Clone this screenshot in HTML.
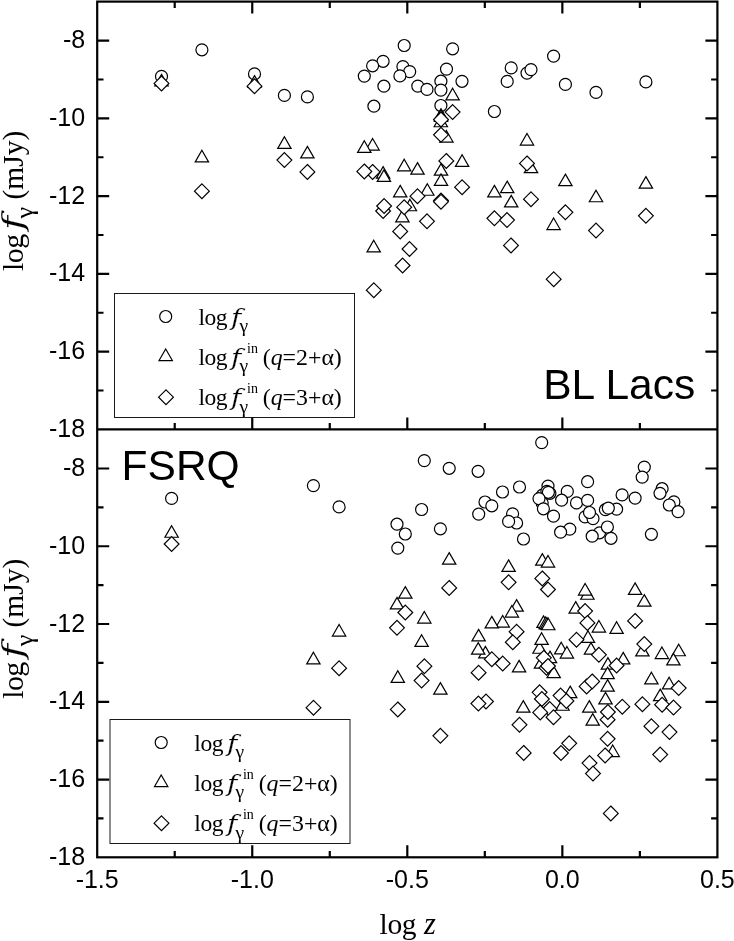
<!DOCTYPE html>
<html><head><meta charset="utf-8">
<style>html,body{margin:0;padding:0;background:#fff}svg{display:block;will-change:transform}.sans{font-family:"Liberation Sans",Arial,sans-serif;fill:#000}.serif{font-family:"Liberation Serif","Times New Roman",serif;fill:#000}.it{font-style:italic}.dj{font-family:"DejaVu Serif","Liberation Serif",serif;font-style:italic;fill:#000;stroke:#fff;stroke-width:0.15}.m{fill:#fff;stroke:#000;stroke-width:1.2;stroke-linejoin:miter}.ax{stroke:#000;stroke-width:2.2;fill:none;stroke-linecap:butt}</style></head><body>
<svg width="734" height="941" viewBox="0 0 734 941">
<rect x="0" y="0" width="734" height="941" fill="#fff"/>
<g id="top-circles"><circle class="m" cx="201.9" cy="49.8" r="6.0"/><circle class="m" cx="161.5" cy="76.4" r="6.0"/><circle class="m" cx="254.5" cy="73.9" r="6.0"/><circle class="m" cx="284.4" cy="95.4" r="6.0"/><circle class="m" cx="307.4" cy="96.9" r="6.0"/><circle class="m" cx="404.2" cy="45.5" r="6.0"/><circle class="m" cx="452.6" cy="48.8" r="6.0"/><circle class="m" cx="383.1" cy="61.3" r="6.0"/><circle class="m" cx="372.6" cy="65.8" r="6.0"/><circle class="m" cx="364.3" cy="76.1" r="6.0"/><circle class="m" cx="402.9" cy="66.6" r="6.0"/><circle class="m" cx="409.7" cy="71.6" r="6.0"/><circle class="m" cx="399.9" cy="75.9" r="6.0"/><circle class="m" cx="446.5" cy="69.1" r="6.0"/><circle class="m" cx="383.9" cy="86.2" r="6.0"/><circle class="m" cx="417.8" cy="86.1" r="6.0"/><circle class="m" cx="427" cy="89.4" r="6.0"/><circle class="m" cx="440.9" cy="81.2" r="6.0"/><circle class="m" cx="440.9" cy="90.1" r="6.0"/><circle class="m" cx="462" cy="81.3" r="6.0"/><circle class="m" cx="373.9" cy="106.2" r="6.0"/><circle class="m" cx="440.9" cy="105.5" r="6.0"/><circle class="m" cx="511.2" cy="67.9" r="6.0"/><circle class="m" cx="507.2" cy="81.4" r="6.0"/><circle class="m" cx="494.4" cy="111.5" r="6.0"/><circle class="m" cx="553.6" cy="56.1" r="6.0"/><circle class="m" cx="527" cy="73.1" r="6.0"/><circle class="m" cx="531" cy="69.6" r="6.0"/><circle class="m" cx="565.4" cy="84.4" r="6.0"/><circle class="m" cx="596" cy="92.4" r="6.0"/><circle class="m" cx="645.9" cy="81.9" r="6.0"/></g>
<g id="top-triangles"><path class="m" d="M161.5 74.4L168.17 85.95L154.83 85.95Z"/><path class="m" d="M254.5 75.6L261.17 87.15L247.83 87.15Z"/><path class="m" d="M284.4 136.8L291.07 148.35L277.73 148.35Z"/><path class="m" d="M307.4 146.4L314.07 157.95L300.73 157.95Z"/><path class="m" d="M201.9 150.3L208.57 161.85L195.23 161.85Z"/><path class="m" d="M452.6 88.3L459.27 99.85L445.93 99.85Z"/><path class="m" d="M441 108.7L447.67 120.25L434.33 120.25Z"/><path class="m" d="M441 109.9L447.67 121.45L434.33 121.45Z"/><path class="m" d="M440.8 115.2L447.47 126.75L434.13 126.75Z"/><path class="m" d="M446.4 130.5L453.07 142.05L439.73 142.05Z"/><path class="m" d="M372.6 138.5L379.27 150.05L365.93 150.05Z"/><path class="m" d="M364.3 140.8L370.97 152.35L357.63 152.35Z"/><path class="m" d="M462.1 154.8L468.77 166.35L455.43 166.35Z"/><path class="m" d="M404.2 159.3L410.87 170.85L397.53 170.85Z"/><path class="m" d="M417.5 162.6L424.17 174.15L410.83 174.15Z"/><path class="m" d="M441 163.6L447.67 175.15L434.33 175.15Z"/><path class="m" d="M383.1 166.6L389.77 178.15L376.43 178.15Z"/><path class="m" d="M383.9 169.9L390.57 181.45L377.23 181.45Z"/><path class="m" d="M441 173.9L447.67 185.45L434.33 185.45Z"/><path class="m" d="M427.3 183.7L433.97 195.25L420.63 195.25Z"/><path class="m" d="M400.2 185.4L406.87 196.95L393.53 196.95Z"/><path class="m" d="M494.4 185.4L501.07 196.95L487.73 196.95Z"/><path class="m" d="M507.2 181.1L513.87 192.65L500.53 192.65Z"/><path class="m" d="M511.2 195.4L517.87 206.95L504.53 206.95Z"/><path class="m" d="M409.9 199.2L416.57 210.75L403.23 210.75Z"/><path class="m" d="M402.4 210.3L409.07 221.85L395.73 221.85Z"/><path class="m" d="M373.7 240.3L380.37 251.85L367.03 251.85Z"/><path class="m" d="M527 133.5L533.67 145.05L520.33 145.05Z"/><path class="m" d="M531 161.1L537.67 172.65L524.33 172.65Z"/><path class="m" d="M565.4 174.1L572.07 185.65L558.73 185.65Z"/><path class="m" d="M645.9 176.6L652.57 188.15L639.23 188.15Z"/><path class="m" d="M596 190.2L602.67 201.75L589.33 201.75Z"/><path class="m" d="M553.6 218L560.27 229.55L546.93 229.55Z"/></g>
<g id="top-diamonds"><path class="m" d="M161.5 76L168.9 83.4L161.5 90.8L154.1 83.4Z"/><path class="m" d="M254.5 78.8L261.9 86.2L254.5 93.6L247.1 86.2Z"/><path class="m" d="M284.4 152.7L291.8 160.1L284.4 167.5L277 160.1Z"/><path class="m" d="M307.4 164.5L314.8 171.9L307.4 179.3L300 171.9Z"/><path class="m" d="M201.9 183.8L209.3 191.2L201.9 198.6L194.5 191.2Z"/><path class="m" d="M452.6 104.7L460 112.1L452.6 119.5L445.2 112.1Z"/><path class="m" d="M441 112.2L448.4 119.6L441 127L433.6 119.6Z"/><path class="m" d="M441 127.4L448.4 134.8L441 142.2L433.6 134.8Z"/><path class="m" d="M446.3 153.5L453.7 160.9L446.3 168.3L438.9 160.9Z"/><path class="m" d="M372.6 164.5L380 171.9L372.6 179.3L365.2 171.9Z"/><path class="m" d="M364.3 164L371.7 171.4L364.3 178.8L356.9 171.4Z"/><path class="m" d="M462.1 179.8L469.5 187.2L462.1 194.6L454.7 187.2Z"/><path class="m" d="M417.5 188.8L424.9 196.2L417.5 203.6L410.1 196.2Z"/><path class="m" d="M441 193.1L448.4 200.5L441 207.9L433.6 200.5Z"/><path class="m" d="M441 194.3L448.4 201.7L441 209.1L433.6 201.7Z"/><path class="m" d="M383.1 203.6L390.5 211L383.1 218.4L375.7 211Z"/><path class="m" d="M384.1 198.6L391.5 206L384.1 213.4L376.7 206Z"/><path class="m" d="M404.2 199.8L411.6 207.2L404.2 214.6L396.8 207.2Z"/><path class="m" d="M427 213.9L434.4 221.3L427 228.7L419.6 221.3Z"/><path class="m" d="M494.4 210.9L501.8 218.3L494.4 225.7L487 218.3Z"/><path class="m" d="M507 212.7L514.4 220.1L507 227.5L499.6 220.1Z"/><path class="m" d="M400.2 224L407.6 231.4L400.2 238.8L392.8 231.4Z"/><path class="m" d="M409.5 241.6L416.9 249L409.5 256.4L402.1 249Z"/><path class="m" d="M511 238L518.4 245.4L511 252.8L503.6 245.4Z"/><path class="m" d="M402.6 258.1L410 265.5L402.6 272.9L395.2 265.5Z"/><path class="m" d="M373.8 282.8L381.2 290.2L373.8 297.6L366.4 290.2Z"/><path class="m" d="M527 156L534.4 163.4L527 170.8L519.6 163.4Z"/><path class="m" d="M531 191.8L538.4 199.2L531 206.6L523.6 199.2Z"/><path class="m" d="M565.4 204.9L572.8 212.3L565.4 219.7L558 212.3Z"/><path class="m" d="M645.9 208.4L653.3 215.8L645.9 223.2L638.5 215.8Z"/><path class="m" d="M596 223.2L603.4 230.6L596 238L588.6 230.6Z"/><path class="m" d="M553.7 271.8L561.1 279.2L553.7 286.6L546.3 279.2Z"/></g>
<g id="bot-circles"><circle class="m" cx="171.6" cy="498.4" r="6.0"/><circle class="m" cx="313.4" cy="485.6" r="6.0"/><circle class="m" cx="339.1" cy="506.9" r="6.0"/><circle class="m" cx="424.3" cy="460.6" r="6.0"/><circle class="m" cx="449.2" cy="468.3" r="6.0"/><circle class="m" cx="478.1" cy="471.3" r="6.0"/><circle class="m" cx="421.6" cy="509.5" r="6.0"/><circle class="m" cx="397" cy="524.2" r="6.0"/><circle class="m" cx="405.3" cy="534" r="6.0"/><circle class="m" cx="397.8" cy="548.1" r="6.0"/><circle class="m" cx="440.4" cy="528.8" r="6.0"/><circle class="m" cx="478.7" cy="514.1" r="6.0"/><circle class="m" cx="485" cy="502" r="6.0"/><circle class="m" cx="541.7" cy="442.6" r="6.0"/><circle class="m" cx="587.6" cy="481.7" r="6.0"/><circle class="m" cx="519.5" cy="487" r="6.0"/><circle class="m" cx="502.5" cy="492" r="6.0"/><circle class="m" cx="548" cy="486.1" r="6.0"/><circle class="m" cx="542.4" cy="495.2" r="6.0"/><circle class="m" cx="546.9" cy="491.3" r="6.0"/><circle class="m" cx="549.9" cy="493.3" r="6.0"/><circle class="m" cx="548.4" cy="492.3" r="6.0"/><circle class="m" cx="567.3" cy="491.4" r="6.0"/><circle class="m" cx="542.2" cy="503" r="6.0"/><circle class="m" cx="539" cy="498.6" r="6.0"/><circle class="m" cx="561.6" cy="500.2" r="6.0"/><circle class="m" cx="576.5" cy="502.9" r="6.0"/><circle class="m" cx="587.6" cy="500.4" r="6.0"/><circle class="m" cx="491.8" cy="505.8" r="6.0"/><circle class="m" cx="543.4" cy="508.8" r="6.0"/><circle class="m" cx="553.5" cy="516.1" r="6.0"/><circle class="m" cx="512.6" cy="513.8" r="6.0"/><circle class="m" cx="516.6" cy="523" r="6.0"/><circle class="m" cx="508.6" cy="521.4" r="6.0"/><circle class="m" cx="523.5" cy="539" r="6.0"/><circle class="m" cx="569.8" cy="529.1" r="6.0"/><circle class="m" cx="560.6" cy="532.2" r="6.0"/><circle class="m" cx="585.1" cy="516.9" r="6.0"/><circle class="m" cx="593" cy="518.6" r="6.0"/><circle class="m" cx="589.5" cy="512.5" r="6.0"/><circle class="m" cx="599.5" cy="532.8" r="6.0"/><circle class="m" cx="592.2" cy="536.2" r="6.0"/><circle class="m" cx="644.3" cy="467.1" r="6.0"/><circle class="m" cx="642.2" cy="477.1" r="6.0"/><circle class="m" cx="662.1" cy="488.7" r="6.0"/><circle class="m" cx="660" cy="493.3" r="6.0"/><circle class="m" cx="622.1" cy="494.9" r="6.0"/><circle class="m" cx="635.1" cy="498.1" r="6.0"/><circle class="m" cx="673.9" cy="501.9" r="6.0"/><circle class="m" cx="669.3" cy="505" r="6.0"/><circle class="m" cx="678.1" cy="511.7" r="6.0"/><circle class="m" cx="616.6" cy="509.2" r="6.0"/><circle class="m" cx="605.4" cy="509.7" r="6.0"/><circle class="m" cx="608.3" cy="508.1" r="6.0"/><circle class="m" cx="607.4" cy="527" r="6.0"/><circle class="m" cx="611" cy="538.3" r="6.0"/><circle class="m" cx="651.4" cy="534.3" r="6.0"/></g>
<g id="bot-triangles"><path class="m" d="M171.6 525.7L178.27 537.25L164.93 537.25Z"/><path class="m" d="M313.4 652.3L320.07 663.85L306.73 663.85Z"/><path class="m" d="M449.2 552.6L455.87 564.15L442.53 564.15Z"/><path class="m" d="M397 597.4L403.67 608.95L390.33 608.95Z"/><path class="m" d="M405.3 586.6L411.97 598.15L398.63 598.15Z"/><path class="m" d="M424.3 611.5L430.97 623.05L417.63 623.05Z"/><path class="m" d="M339.1 624.5L345.77 636.05L332.43 636.05Z"/><path class="m" d="M421.6 634.8L428.27 646.35L414.93 646.35Z"/><path class="m" d="M478.6 629.4L485.27 640.95L471.93 640.95Z"/><path class="m" d="M485.4 646.4L492.07 657.95L478.73 657.95Z"/><path class="m" d="M478.2 642.6L484.87 654.15L471.53 654.15Z"/><path class="m" d="M508.6 559.9L515.27 571.45L501.93 571.45Z"/><path class="m" d="M542.3 553.6L548.97 565.15L535.63 565.15Z"/><path class="m" d="M548 555.5L554.67 567.05L541.33 567.05Z"/><path class="m" d="M587.4 587.7L594.07 599.25L580.73 599.25Z"/><path class="m" d="M585.1 583.5L591.77 595.05L578.43 595.05Z"/><path class="m" d="M516.6 599.6L523.27 611.15L509.93 611.15Z"/><path class="m" d="M511.9 605.5L518.57 617.05L505.23 617.05Z"/><path class="m" d="M575.7 601.6L582.37 613.15L569.03 613.15Z"/><path class="m" d="M635.1 582.9L641.77 594.45L628.43 594.45Z"/><path class="m" d="M644.3 594.6L650.97 606.15L637.63 606.15Z"/><path class="m" d="M502.7 615.5L509.37 627.05L496.03 627.05Z"/><path class="m" d="M491.8 616.4L498.47 627.95L485.13 627.95Z"/><path class="m" d="M519.1 660.4L525.77 671.95L512.43 671.95Z"/><path class="m" d="M523.3 700.6L529.97 712.15L516.63 712.15Z"/><path class="m" d="M543.5 615.9L550.17 627.45L536.83 627.45Z"/><path class="m" d="M545.7 617L552.37 628.55L539.03 628.55Z"/><path class="m" d="M547 617.6L553.67 629.15L540.33 629.15Z"/><path class="m" d="M548.3 618.2L554.97 629.75L541.63 629.75Z"/><path class="m" d="M539.5 641.7L546.17 653.25L532.83 653.25Z"/><path class="m" d="M541.6 632.8L548.27 644.35L534.93 644.35Z"/><path class="m" d="M561.2 642.3L567.87 653.85L554.53 653.85Z"/><path class="m" d="M566.9 646.5L573.57 658.05L560.23 658.05Z"/><path class="m" d="M550 651.1L556.67 662.65L543.33 662.65Z"/><path class="m" d="M541 656.6L547.67 668.15L534.33 668.15Z"/><path class="m" d="M553.7 666.1L560.37 677.65L547.03 677.65Z"/><path class="m" d="M598.9 620.5L605.57 632.05L592.23 632.05Z"/><path class="m" d="M588 630.8L594.67 642.35L581.33 642.35Z"/><path class="m" d="M591 642.6L597.67 654.15L584.33 654.15Z"/><path class="m" d="M570.2 686.1L576.87 697.65L563.53 697.65Z"/><path class="m" d="M562.5 698.7L569.17 710.25L555.83 710.25Z"/><path class="m" d="M589.3 700.6L595.97 712.15L582.63 712.15Z"/><path class="m" d="M592.7 713.6L599.37 725.15L586.03 725.15Z"/><path class="m" d="M616.6 621.8L623.27 633.35L609.93 633.35Z"/><path class="m" d="M642.4 644.4L649.07 655.95L635.73 655.95Z"/><path class="m" d="M661.9 647L668.57 658.55L655.23 658.55Z"/><path class="m" d="M678.7 644.2L685.37 655.75L672.03 655.75Z"/><path class="m" d="M673.4 653.4L680.07 664.95L666.73 664.95Z"/><path class="m" d="M623.2 652.4L629.87 663.95L616.53 663.95Z"/><path class="m" d="M607.9 657.6L614.57 669.15L601.23 669.15Z"/><path class="m" d="M607.6 667.1L614.27 678.65L600.93 678.65Z"/><path class="m" d="M607.6 679.6L614.27 691.15L600.93 691.15Z"/><path class="m" d="M605.5 692.4L612.17 703.95L598.83 703.95Z"/><path class="m" d="M651.4 672.3L658.07 683.85L644.73 683.85Z"/><path class="m" d="M669.1 677.3L675.77 688.85L662.43 688.85Z"/><path class="m" d="M660.2 689.1L666.87 700.65L653.53 700.65Z"/><path class="m" d="M612.7 745L619.37 756.55L606.03 756.55Z"/><path class="m" d="M397.8 670.8L404.47 682.35L391.13 682.35Z"/><path class="m" d="M440.4 682.6L447.07 694.15L433.73 694.15Z"/></g>
<g id="bot-diamonds"><path class="m" d="M171.6 536.6L179 544L171.6 551.4L164.2 544Z"/><path class="m" d="M449.2 580.5L456.6 587.9L449.2 595.3L441.8 587.9Z"/><path class="m" d="M405.3 605.1L412.7 612.5L405.3 619.9L397.9 612.5Z"/><path class="m" d="M397 620.4L404.4 627.8L397 635.2L389.6 627.8Z"/><path class="m" d="M339.1 660.8L346.5 668.2L339.1 675.6L331.7 668.2Z"/><path class="m" d="M424.4 658.8L431.8 666.2L424.4 673.6L417 666.2Z"/><path class="m" d="M478.6 665.3L486 672.7L478.6 680.1L471.2 672.7Z"/><path class="m" d="M508.6 574.9L516 582.3L508.6 589.7L501.2 582.3Z"/><path class="m" d="M542.3 571L549.7 578.4L542.3 585.8L534.9 578.4Z"/><path class="m" d="M548 582.1L555.4 589.5L548 596.9L540.6 589.5Z"/><path class="m" d="M585.1 603.7L592.5 611.1L585.1 618.5L577.7 611.1Z"/><path class="m" d="M635.1 613.5L642.5 620.9L635.1 628.3L627.7 620.9Z"/><path class="m" d="M516.6 624.3L524 631.7L516.6 639.1L509.2 631.7Z"/><path class="m" d="M512.8 634.8L520.2 642.2L512.8 649.6L505.4 642.2Z"/><path class="m" d="M491.8 651.8L499.2 659.2L491.8 666.6L484.4 659.2Z"/><path class="m" d="M502.7 656.2L510.1 663.6L502.7 671L495.3 663.6Z"/><path class="m" d="M587.4 615.5L594.8 622.9L587.4 630.3L580 622.9Z"/><path class="m" d="M576.5 632.3L583.9 639.7L576.5 647.1L569.1 639.7Z"/><path class="m" d="M598.9 647.4L606.3 654.8L598.9 662.2L591.5 654.8Z"/><path class="m" d="M543.8 650.4L551.2 657.8L543.8 665.2L536.4 657.8Z"/><path class="m" d="M546.5 660.4L553.9 667.8L546.5 675.2L539.1 667.8Z"/><path class="m" d="M548 658.6L555.4 666L548 673.4L540.6 666Z"/><path class="m" d="M586.6 679L594 686.4L586.6 693.8L579.2 686.4Z"/><path class="m" d="M592.2 674L599.6 681.4L592.2 688.8L584.8 681.4Z"/><path class="m" d="M539.6 684.9L547 692.3L539.6 699.7L532.2 692.3Z"/><path class="m" d="M541.9 691.6L549.3 699L541.9 706.4L534.5 699Z"/><path class="m" d="M560.6 688.2L568 695.6L560.6 703L553.2 695.6Z"/><path class="m" d="M566.4 693.5L573.8 700.9L566.4 708.3L559 700.9Z"/><path class="m" d="M549.7 701.6L557.1 709L549.7 716.4L542.3 709Z"/><path class="m" d="M540.2 705L547.6 712.4L540.2 719.8L532.8 712.4Z"/><path class="m" d="M553.5 709.8L560.9 717.2L553.5 724.6L546.1 717.2Z"/><path class="m" d="M486 694.1L493.4 701.5L486 708.9L478.6 701.5Z"/><path class="m" d="M478.4 696.2L485.8 703.6L478.4 711L471 703.6Z"/><path class="m" d="M519.5 717.4L526.9 724.8L519.5 732.2L512.1 724.8Z"/><path class="m" d="M523.7 745.5L531.1 752.9L523.7 760.3L516.3 752.9Z"/><path class="m" d="M569.2 735.9L576.6 743.3L569.2 750.7L561.8 743.3Z"/><path class="m" d="M561 745.6L568.4 753L561 760.4L553.6 753Z"/><path class="m" d="M589.5 755.7L596.9 763.1L589.5 770.5L582.1 763.1Z"/><path class="m" d="M593 766.2L600.4 773.6L593 781L585.6 773.6Z"/><path class="m" d="M644.3 636.7L651.7 644.1L644.3 651.5L636.9 644.1Z"/><path class="m" d="M616.6 658.1L624 665.5L616.6 672.9L609.2 665.5Z"/><path class="m" d="M678.7 680.7L686.1 688.1L678.7 695.5L671.3 688.1Z"/><path class="m" d="M642.4 696.8L649.8 704.2L642.4 711.6L635 704.2Z"/><path class="m" d="M622.3 699.3L629.7 706.7L622.3 714.1L614.9 706.7Z"/><path class="m" d="M662.1 697.3L669.5 704.7L662.1 712.1L654.7 704.7Z"/><path class="m" d="M673.5 700.2L680.9 707.6L673.5 715L666.1 707.6Z"/><path class="m" d="M607.6 712.3L615 719.7L607.6 727.1L600.2 719.7Z"/><path class="m" d="M607.9 704.6L615.3 712L607.9 719.4L600.5 712Z"/><path class="m" d="M651.4 718.8L658.8 726.2L651.4 733.6L644 726.2Z"/><path class="m" d="M669.5 724.7L676.9 732.1L669.5 739.5L662.1 732.1Z"/><path class="m" d="M607.6 731.4L615 738.8L607.6 746.2L600.2 738.8Z"/><path class="m" d="M660.2 747.2L667.6 754.6L660.2 762L652.8 754.6Z"/><path class="m" d="M605.1 748L612.5 755.4L605.1 762.8L597.7 755.4Z"/><path class="m" d="M610.8 806L618.2 813.4L610.8 820.8L603.4 813.4Z"/><path class="m" d="M313.5 700.3L320.9 707.7L313.5 715.1L306.1 707.7Z"/><path class="m" d="M397.8 702L405.2 709.4L397.8 716.8L390.4 709.4Z"/><path class="m" d="M421.6 673.2L429 680.6L421.6 688L414.2 680.6Z"/><path class="m" d="M440.4 728.4L447.8 735.8L440.4 743.2L433 735.8Z"/></g>
<rect x="114.5" y="293.5" width="240" height="124" fill="#fff" stroke="#1a1a1a" stroke-width="1"/>
<circle class="m" cx="165.7" cy="316.5" r="6.0"/>
<path class="m" d="M165.7 349L172.37 360.55L159.03 360.55Z"/>
<path class="m" d="M166 389.8L173.4 397.2L166 404.6L158.6 397.2Z"/>
<text class="serif" x="198.4" y="324.5" font-size="23.5" letter-spacing="-0.45">log</text>
<text class="dj" font-size="22" transform="translate(231 324.5) scale(1.26 1)">f</text>
<text class="serif" x="239.6" y="332.1" font-size="19.5">γ</text>
<text class="serif" x="198.4" y="364.8" font-size="23.5" letter-spacing="-0.45">log</text>
<text class="dj" font-size="22" transform="translate(231 364.8) scale(1.26 1)">f</text>
<text class="serif" x="239.6" y="372.4" font-size="19.5">γ</text>
<text class="serif" x="247" y="352.8" font-size="14">in</text>
<text class="serif" x="262.7" y="364.8" font-size="23.85">(<tspan class="it">q</tspan>=2+α)</text>
<text class="serif" x="198.4" y="405.1" font-size="23.5" letter-spacing="-0.45">log</text>
<text class="dj" font-size="22" transform="translate(231 405.1) scale(1.26 1)">f</text>
<text class="serif" x="239.6" y="412.7" font-size="19.5">γ</text>
<text class="serif" x="247" y="393.1" font-size="14">in</text>
<text class="serif" x="262.7" y="405.1" font-size="23.85">(<tspan class="it">q</tspan>=3+α)</text>
<rect x="110" y="719.5" width="240" height="124" fill="#fff" stroke="#1a1a1a" stroke-width="1"/>
<circle class="m" cx="161.2" cy="742.5" r="6.0"/>
<path class="m" d="M161.2 775L167.87 786.55L154.53 786.55Z"/>
<path class="m" d="M161.5 815.8L168.9 823.2L161.5 830.6L154.1 823.2Z"/>
<text class="serif" x="194.35" y="750.5" font-size="23.5" letter-spacing="-0.45">log</text>
<text class="dj" font-size="22" transform="translate(226.95 750.5) scale(1.26 1)">f</text>
<text class="serif" x="235.55" y="758.1" font-size="19.5">γ</text>
<text class="serif" x="194.35" y="790.8" font-size="23.5" letter-spacing="-0.45">log</text>
<text class="dj" font-size="22" transform="translate(226.95 790.8) scale(1.26 1)">f</text>
<text class="serif" x="235.55" y="798.4" font-size="19.5">γ</text>
<text class="serif" x="242.95" y="778.8" font-size="14">in</text>
<text class="serif" x="258.65" y="790.8" font-size="23.85">(<tspan class="it">q</tspan>=2+α)</text>
<text class="serif" x="194.35" y="831.1" font-size="23.5" letter-spacing="-0.45">log</text>
<text class="dj" font-size="22" transform="translate(226.95 831.1) scale(1.26 1)">f</text>
<text class="serif" x="235.55" y="838.7" font-size="19.5">γ</text>
<text class="serif" x="242.95" y="819.1" font-size="14">in</text>
<text class="serif" x="258.65" y="831.1" font-size="23.85">(<tspan class="it">q</tspan>=3+α)</text>
<g class="ax">
<rect x="97.2" y="1.6" width="620.2" height="855.7"/>
<line x1="97.2" y1="429.4" x2="717.4" y2="429.4"/>
<path d="M174.72 1.6v6.3M174.72 429.4v-6.3M174.72 857.3v-6.3M252.25 1.6v12M252.25 429.4v-12M252.25 857.3v-12M329.77 1.6v6.3M329.77 429.4v-6.3M329.77 857.3v-6.3M407.3 1.6v12M407.3 429.4v-12M407.3 857.3v-12M484.82 1.6v6.3M484.82 429.4v-6.3M484.82 857.3v-6.3M562.35 1.6v12M562.35 429.4v-12M562.35 857.3v-12M639.88 1.6v6.3M639.88 429.4v-6.3M639.88 857.3v-6.3M97.2 40.6h12M717.4 40.6h-12M97.2 79.48h6.3M717.4 79.48h-6.3M97.2 118.36h12M717.4 118.36h-12M97.2 157.24h6.3M717.4 157.24h-6.3M97.2 196.12h12M717.4 196.12h-12M97.2 235h6.3M717.4 235h-6.3M97.2 273.88h12M717.4 273.88h-12M97.2 312.76h6.3M717.4 312.76h-6.3M97.2 351.64h12M717.4 351.64h-12M97.2 390.52h6.3M717.4 390.52h-6.3M97.2 468.5h12M717.4 468.5h-12M97.2 507.38h6.3M717.4 507.38h-6.3M97.2 546.26h12M717.4 546.26h-12M97.2 585.14h6.3M717.4 585.14h-6.3M97.2 624.02h12M717.4 624.02h-12M97.2 662.9h6.3M717.4 662.9h-6.3M97.2 701.78h12M717.4 701.78h-12M97.2 740.66h6.3M717.4 740.66h-6.3M97.2 779.54h12M717.4 779.54h-12M97.2 818.42h6.3M717.4 818.42h-6.3"/>
</g>
<g class="sans" font-size="25" text-anchor="end">
<text x="85.2" y="48.2">-8</text>
<text x="85.2" y="125.96">-10</text>
<text x="85.2" y="203.72">-12</text>
<text x="85.2" y="281.48">-14</text>
<text x="85.2" y="359.24">-16</text>
<text x="85.2" y="437">-18</text>
<text x="85.2" y="476.1">-8</text>
<text x="85.2" y="553.86">-10</text>
<text x="85.2" y="631.62">-12</text>
<text x="85.2" y="709.38">-14</text>
<text x="85.2" y="787.14">-16</text>
<text x="85.2" y="864.9">-18</text>
</g>
<g class="sans" font-size="25" text-anchor="middle">
<text x="97.2" y="888.4">-1.5</text>
<text x="252.25" y="888.4">-1.0</text>
<text x="407.3" y="888.4">-0.5</text>
<text x="562.35" y="888.4">0.0</text>
<text x="717.4" y="888.4">0.5</text>
</g>
<text class="serif" x="379.6" y="933.6" font-size="29.5" letter-spacing="-0.4">log</text>
<text class="serif it" x="423.9" y="933.6" font-size="30.5">z</text>
<g transform="translate(22.9 270.9) rotate(-90)">
<text class="serif" x="0" y="0" font-size="30" letter-spacing="-0.6">log</text>
<text class="dj" font-size="30" transform="translate(40.9 0) scale(1.27 1)">f</text>
<text class="serif" x="52.5" y="10.3" font-size="26">γ</text>
<text class="serif" x="71.3" y="0" font-size="29.5">(mJy)</text>
</g>
<g transform="translate(22.9 698.8) rotate(-90)">
<text class="serif" x="0" y="0" font-size="30" letter-spacing="-0.6">log</text>
<text class="dj" font-size="30" transform="translate(40.9 0) scale(1.27 1)">f</text>
<text class="serif" x="52.5" y="10.3" font-size="26">γ</text>
<text class="serif" x="71.3" y="0" font-size="29.5">(mJy)</text>
</g>
<text class="sans" x="543.2" y="398.6" font-size="42.5">BL Lacs</text>
<text class="sans" x="121.6" y="479.9" font-size="42.5">FSRQ</text>
</svg></body></html>
